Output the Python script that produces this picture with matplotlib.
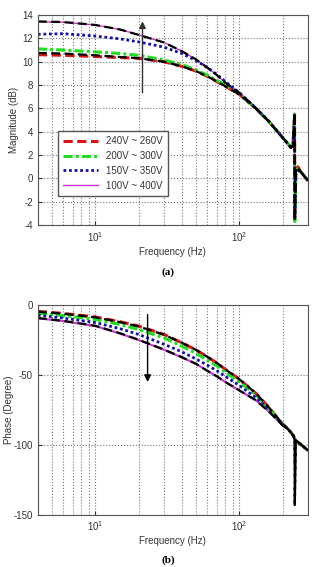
import numpy as np
import matplotlib
matplotlib.use("Agg")
import matplotlib.pyplot as plt

plt.rcParams['font.family'] = ['Liberation Sans', 'DejaVu Sans']
plt.rcParams['mathtext.default'] = 'regular'
plt.rcParams['axes.unicode_minus'] = False

# frequency points (Hz)
freq = [4, 6, 10, 15, 20, 30, 40, 50, 60, 70, 80, 100, 130, 160, 200, 220,
        228, 236, 242, 243, 247, 255, 270, 300]

# magnitude (dB)
mag_240_260 = [10.6, 10.55, 10.45, 10.35, 10.3, 10.0, 9.6, 9.2, 8.75, 8.3, 7.9, 7.2, 6.0, 4.9, 3.5, 2.9,
               2.65, 2.8, 5.5, -3.3, 0.6, 1.0, 0.5, -0.2]
mag_200_300 = [11.1, 11.0, 10.85, 10.7, 10.55, 10.15, 9.75, 9.3, 8.85, 8.4, 8.0, 7.25, 6.0, 4.9, 3.5, 2.9,
               2.65, 2.8, 5.5, -3.7, 0.5, 0.8, 0.5, -0.2]
mag_150_350 = [12.35, 12.4, 12.2, 11.95, 11.7, 11.25, 10.7, 10.1, 9.5, 8.9, 8.3, 7.35, 6.05, 4.9, 3.5, 2.9,
               2.65, 2.8, 5.5, -3.4, 0.5, 0.7, 0.5, -0.2]
mag_100_400 = [13.43, 13.38, 13.15, 12.75, 12.3, 11.65, 10.9, 10.2, 9.5, 8.85, 8.2, 7.35, 6.05, 4.9, 3.5, 2.9,
               2.65, 2.8, 5.6, -3.5, 0.6, 0.8, 0.5, -0.2]
mag_ref_lo = [10.75, 10.7, 10.55, 10.4, 10.3, 10.0, 9.6, 9.2, 8.75, 8.3, 7.9, 7.2, 6.0, 4.9, 3.5, 2.9,
              2.65, 2.8, 5.6, -3.6, 0.6, 0.9, 0.5, -0.2]
mag_ref_hi = [13.45, 13.4, 13.15, 12.75, 12.3, 11.65, 10.9, 10.2, 9.5, 8.85, 8.2, 7.35, 6.05, 4.9, 3.5, 2.9,
              2.65, 2.8, 5.6, -3.6, 0.6, 0.8, 0.5, -0.2]

# phase (degree)
ph_240_260 = [-4.5, -6, -8.5, -12, -15, -21, -27, -32, -37, -41.5, -46, -53, -63, -73, -85, -89,
              -91, -93, -95, -96, -97, -98, -100, -104]
ph_200_300 = [-5.8, -7.5, -10.3, -14, -17.5, -23.5, -29.5, -34.5, -39.5, -43.5, -48, -55, -64, -74, -85, -89,
              -91, -93, -95, -96, -97, -98, -100, -104]
ph_150_350 = [-7.3, -9.3, -12.5, -17, -21, -28, -33.5, -38.5, -43, -47, -51, -57.5, -66, -75, -85.5, -89,
              -91, -93, -95, -96, -97, -98, -100, -104]
ph_100_400 = [-9.5, -11.5, -15, -20.5, -25, -32, -37.5, -42, -47, -51, -55, -61, -68, -76, -86, -89.5,
              -91, -93, -95, -96, -97, -98, -100, -104]
ph_ref_hi = [-4.8, -6.2, -8.8, -12.3, -15.3, -21.2, -27, -32, -37, -41.5, -46, -53, -63, -73, -85, -89,
             -91, -93, -96, -143, -97, -98, -100, -104]
ph_ref_lo = [-9.3, -11.3, -14.8, -20.3, -24.8, -31.8, -37.3, -42, -47, -51, -55, -61, -68, -76, -86, -89.5,
             -91, -93, -96, -143, -97, -98, -100, -104]

labels = ['240V ~ 260V', '200V ~ 300V', '150V ~ 350V', '100V ~ 400V']

fig = plt.figure(figsize=(3.13, 5.67), dpi=100)
ax1 = fig.add_axes([0.121, 0.603, 0.863, 0.3705])
ax2 = fig.add_axes([0.121, 0.092, 0.863, 0.370])


def style(ax):
    ax.set_xscale('log')
    ax.set_xlim(4, 300)
    ax.set_xticks([10, 100])
    ax.set_xticklabels(['$10^1$', '$10^2$'])
    ax.grid(True, which='both', axis='x', linestyle=':', color='#777777', linewidth=0.8)
    ax.grid(True, which='major', axis='y', linestyle=':', color='#777777', linewidth=0.8)
    ax.tick_params(which='both', direction='in', labelsize=7, colors='#333333', length=3)
    ax.tick_params(which='minor', length=0)
    for s in ax.spines.values():
        s.set_color('#555555')
        s.set_linewidth(0.8)
    ax.set_xlabel('Frequency (Hz)', fontsize=7, color='#333333', labelpad=2)


# magnitude
ax1.plot(freq, mag_100_400, color='#cc33cc', lw=1.0, label=labels[3])
ax1.plot(freq, mag_240_260, color='#dd1111', lw=2.2, ls=(0, (3, 1.5)), label=labels[0])
ax1.plot(freq, mag_200_300, color='#22dd22', lw=2.2, ls=(0, (3, 1, 1, 1)), label=labels[1])
ax1.plot(freq, mag_150_350, color='#1111aa', lw=2.0, ls=(0, (1, 1)), label=labels[2])
ax1.plot(freq, mag_ref_lo, color='black', lw=1.6, ls=(0, (4, 2)))
ax1.plot(freq, mag_ref_hi, color='black', lw=1.6, ls=(0, (4, 2)))
style(ax1)
ax1.set_ylim(-4, 14)
ax1.set_yticks(np.arange(-4, 15, 2))
ax1.set_ylabel('Magnitude (dB)', fontsize=7, color='#333333', labelpad=2)
h, l = ax1.get_legend_handles_labels()
order = [1, 2, 3, 0]
leg = ax1.legend([h[i] for i in order], [l[i] for i in order], loc='lower left',
                 bbox_to_anchor=(0.055, 0.115), fontsize=7, handlelength=3.6,
                 fancybox=False, edgecolor='#555555', framealpha=1, borderpad=0.55,
                 labelspacing=0.5)
for t in leg.get_texts():
    t.set_color('#333333')
ax1.annotate('', xy=(21.3, 13.7), xytext=(21.3, 7.1),
             arrowprops=dict(arrowstyle='-|>', color='#333333', lw=1.0, mutation_scale=10))

# phase
ax2.plot(freq, ph_100_400, color='#cc33cc', lw=1.5)
ax2.plot(freq, ph_240_260, color='#dd1111', lw=2.2, ls=(0, (3, 1.5)))
ax2.plot(freq, ph_200_300, color='#22dd22', lw=2.2, ls=(0, (3, 1, 1, 1)))
ax2.plot(freq, ph_150_350, color='#1111aa', lw=2.0, ls=(0, (1, 1)))
ax2.plot(freq, ph_ref_hi, color='black', lw=1.6, ls=(0, (4, 2)))
ax2.plot(freq, ph_ref_lo, color='black', lw=1.6, ls=(0, (4, 2)))
style(ax2)
ax2.set_ylim(-150, 0)
ax2.set_yticks([-150, -100, -50, 0])
ax2.set_ylabel('Phase (Degree)', fontsize=7, color='#333333', labelpad=0)
ax2.annotate('', xy=(23.1, -57), xytext=(23.1, -4.8),
             arrowprops=dict(arrowstyle='-|>', color='black', lw=1.0, mutation_scale=10))

fig.text(0.537, 0.52, '(a)', ha='center', va='center', fontsize=8,
         fontweight='bold', family='Liberation Serif')
fig.text(0.537, 0.012, '(b)', ha='center', va='center', fontsize=8,
         fontweight='bold', family='Liberation Serif')

fig.savefig('out.png', dpi=100)
